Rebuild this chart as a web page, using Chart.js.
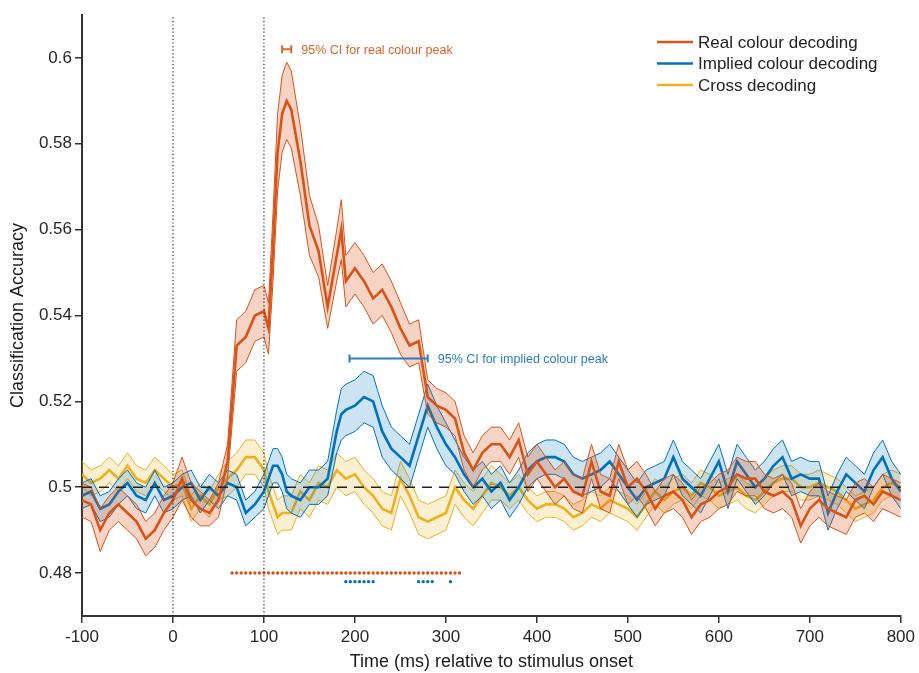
<!DOCTYPE html>
<html>
<head>
<meta charset="utf-8">
<script src="https://cdn.jsdelivr.net/npm/chart.js@4.4.1/dist/chart.umd.min.js"></script>
<style>
  body { margin: 0; background: #fff; }
  #chart { display: block; }
</style>
</head>
<body>
<canvas id="chart" width="919" height="673"></canvas>
<script>
// time points (ms)
const times = [
  -100, -90, -80, -70, -60, -50, -40, -30, -20, -10,
  0, 10, 20, 30, 40, 50, 60, 70, 80, 90,
  100, 105, 110, 115, 120, 125, 130, 140, 150, 160,
  170, 180, 185, 190, 200, 210, 220, 230, 240, 250,
  260, 270, 280, 290, 300, 310, 320, 330, 340, 350,
  360, 370, 380, 390, 400, 410, 420, 430, 440, 450,
  460, 470, 480, 490, 500, 510, 520, 530, 540, 550,
  560, 570, 580, 590, 600, 610, 620, 630, 640, 650,
  660, 670, 680, 690, 700, 710, 720, 730, 740, 750,
  760, 770, 780, 790, 800
];

const realMean = [
  0.497, 0.496, 0.490, 0.494, 0.496, 0.494, 0.492, 0.488, 0.490, 0.494,
  0.497, 0.502, 0.497, 0.495, 0.494, 0.497, 0.506, 0.533, 0.535, 0.540,
  0.541, 0.537, 0.556, 0.578, 0.587, 0.590, 0.588, 0.576, 0.561, 0.555,
  0.542, 0.554, 0.560, 0.548, 0.551, 0.548, 0.544, 0.546, 0.542, 0.537,
  0.533, 0.534, 0.521, 0.519, 0.518, 0.516, 0.508, 0.504, 0.508, 0.510,
  0.510, 0.507, 0.511, 0.503, 0.506, 0.503, 0.500, 0.502, 0.499, 0.498,
  0.506, 0.499, 0.498, 0.506, 0.500, 0.502, 0.499, 0.495, 0.498, 0.499,
  0.497, 0.493, 0.496, 0.497, 0.499, 0.500, 0.503, 0.502, 0.502, 0.499,
  0.498, 0.499, 0.497, 0.491, 0.495, 0.497, 0.495, 0.494, 0.493, 0.497,
  0.498, 0.496, 0.499, 0.498, 0.497
];
const realHalf = [
  0.004, 0.004, 0.005, 0.004, 0.004, 0.004, 0.004, 0.004, 0.004, 0.004,
  0.004, 0.005, 0.004, 0.004, 0.003, 0.004, 0.004, 0.006, 0.006, 0.006,
  0.006, 0.006, 0.008, 0.009, 0.009, 0.009, 0.009, 0.008, 0.007, 0.006,
  0.005, 0.006, 0.007, 0.006, 0.006, 0.006, 0.006, 0.006, 0.006, 0.006,
  0.005, 0.005, 0.004, 0.004, 0.004, 0.004, 0.004, 0.004, 0.004, 0.004,
  0.004, 0.004, 0.004, 0.004, 0.004, 0.004, 0.004, 0.004, 0.004, 0.004,
  0.004, 0.004, 0.004, 0.004, 0.004, 0.004, 0.004, 0.004, 0.004, 0.004,
  0.004, 0.004, 0.004, 0.004, 0.004, 0.004, 0.004, 0.004, 0.004, 0.004,
  0.004, 0.004, 0.004, 0.004, 0.004, 0.004, 0.004, 0.004, 0.004, 0.004,
  0.004, 0.004, 0.004, 0.004, 0.004
];

const impliedMean = [
  0.498, 0.499, 0.495, 0.496, 0.499, 0.501, 0.498, 0.497, 0.501, 0.497,
  0.498, 0.500, 0.501, 0.497, 0.500, 0.498, 0.501, 0.500, 0.494, 0.496,
  0.499, 0.502, 0.505, 0.505, 0.503, 0.499, 0.498, 0.497, 0.500, 0.500,
  0.502, 0.513, 0.517, 0.518, 0.519, 0.521, 0.520, 0.513, 0.509, 0.507,
  0.505, 0.512, 0.519, 0.514, 0.510, 0.507, 0.503, 0.500, 0.502, 0.499,
  0.501, 0.497, 0.500, 0.504, 0.506, 0.507, 0.507, 0.506, 0.503, 0.502,
  0.503, 0.504, 0.506, 0.503, 0.500, 0.497, 0.500, 0.501, 0.502, 0.507,
  0.502, 0.500, 0.498, 0.502, 0.506, 0.499, 0.506, 0.503, 0.500, 0.502,
  0.505, 0.507, 0.502, 0.503, 0.502, 0.502, 0.494, 0.499, 0.503, 0.501,
  0.499, 0.504, 0.507, 0.502, 0.499
];
const impliedHalf = [
  0.003, 0.003, 0.003, 0.003, 0.003, 0.003, 0.003, 0.003, 0.003, 0.003,
  0.003, 0.003, 0.003, 0.003, 0.003, 0.003, 0.003, 0.003, 0.003, 0.003,
  0.004, 0.004, 0.004, 0.004, 0.004, 0.004, 0.004, 0.004, 0.004, 0.004,
  0.004, 0.005, 0.006, 0.006, 0.006, 0.006, 0.006, 0.006, 0.005, 0.005,
  0.005, 0.005, 0.005, 0.005, 0.005, 0.004, 0.004, 0.004, 0.004, 0.004,
  0.004, 0.004, 0.004, 0.004, 0.004, 0.004, 0.004, 0.004, 0.004, 0.004,
  0.004, 0.004, 0.004, 0.004, 0.004, 0.004, 0.004, 0.004, 0.004, 0.004,
  0.004, 0.004, 0.004, 0.004, 0.004, 0.004, 0.004, 0.004, 0.004, 0.004,
  0.004, 0.004, 0.004, 0.004, 0.004, 0.004, 0.004, 0.004, 0.004, 0.004,
  0.004, 0.004, 0.004, 0.004, 0.004
];

const crossMean = [
  0.503, 0.501, 0.502, 0.504, 0.502, 0.505, 0.502, 0.501, 0.504, 0.502,
  0.500, 0.501, 0.495, 0.498, 0.496, 0.500, 0.502, 0.504, 0.507, 0.507,
  0.504, 0.499, 0.496, 0.493, 0.494, 0.494, 0.494, 0.499, 0.497, 0.501,
  0.500, 0.504, 0.503, 0.502, 0.503, 0.500, 0.498, 0.495, 0.494, 0.502,
  0.498, 0.493, 0.492, 0.493, 0.494, 0.500, 0.497, 0.495, 0.498, 0.501,
  0.500, 0.498, 0.500, 0.497, 0.495, 0.496, 0.496, 0.495, 0.493, 0.494,
  0.496, 0.495, 0.497, 0.496, 0.495, 0.493, 0.496, 0.499, 0.497, 0.499,
  0.500, 0.498, 0.501, 0.500, 0.498, 0.499, 0.500, 0.498, 0.497, 0.499,
  0.501, 0.502, 0.502, 0.500, 0.500, 0.501, 0.500, 0.499, 0.497, 0.495,
  0.496, 0.497, 0.500, 0.501, 0.500
];
const crossHalf = [
  0.003, 0.003, 0.003, 0.003, 0.003, 0.003, 0.003, 0.003, 0.003, 0.003,
  0.003, 0.003, 0.003, 0.003, 0.003, 0.003, 0.004, 0.004, 0.004, 0.004,
  0.004, 0.004, 0.004, 0.004, 0.004, 0.004, 0.004, 0.004, 0.004, 0.004,
  0.004, 0.004, 0.004, 0.004, 0.004, 0.004, 0.004, 0.004, 0.004, 0.004,
  0.004, 0.004, 0.004, 0.004, 0.004, 0.004, 0.004, 0.004, 0.004, 0.004,
  0.003, 0.003, 0.003, 0.003, 0.003, 0.003, 0.003, 0.003, 0.003, 0.003,
  0.003, 0.003, 0.003, 0.003, 0.003, 0.003, 0.003, 0.003, 0.003, 0.003,
  0.003, 0.003, 0.003, 0.003, 0.003, 0.003, 0.003, 0.003, 0.003, 0.003,
  0.003, 0.003, 0.003, 0.003, 0.003, 0.003, 0.003, 0.003, 0.003, 0.003,
  0.003, 0.003, 0.003, 0.003, 0.003
];

// significant time points (5 ms samples)
const realSig = [
  65, 70, 75, 80, 85, 90, 95, 100, 105, 110, 115, 120, 125, 130, 135, 140,
  145, 150, 155, 160, 165, 170, 175, 180, 185, 190, 195, 200, 205, 210, 215,
  220, 225, 230, 235, 240, 245, 250, 255, 260, 265, 270, 275, 280, 285, 290,
  295, 300, 305, 310, 315
];
const impliedSig = [190, 195, 200, 205, 210, 215, 220, 270, 275, 280, 285, 305];
const realSigLevel = 0.480;
const impliedSigLevel = 0.478;

// 95% CI of peak time
const realPeakCI = [120, 130];
const realPeakLevel = 0.602;
const impliedPeakCI = [194, 280];
const impliedPeakLevel = 0.530;

const eventTimes = [0, 100];
const chance = 0.5;
const xTicks = [-100, 0, 100, 200, 300, 400, 500, 600, 700, 800];
const yTicks = [0.48, 0.50, 0.52, 0.54, 0.56, 0.58, 0.60];
const xMin = -100, xMax = 800, yMin = 0.47, yMax = 0.61;

const FONT = "'Liberation Sans', Arial, Helvetica, sans-serif";
const ORANGE = "#D95319", BLUE = "#0072BD", YELLOW = "#EDB120";

function band(label, mean, half, color, fillColor) {
  const pts = (sign) => times.map((t, i) => ({ x: t, y: mean[i] + sign * half[i] }));
  return [
    { label: label, data: pts(0), borderColor: color, borderWidth: 2.6, pointRadius: 0, fill: false, isMain: true },
    { label: label + " upper", data: pts(1), borderColor: color, borderWidth: 1, pointRadius: 0, fill: "+1", backgroundColor: fillColor },
    { label: label + " lower", data: pts(-1), borderColor: color, borderWidth: 1, pointRadius: 0, fill: false },
  ];
}

function sigDots(ts, level, color) {
  return {
    label: "sig", data: ts.map(t => ({ x: t, y: level })), showLine: false,
    pointRadius: 1.7, pointBorderWidth: 0, pointBackgroundColor: color, borderColor: color,
  };
}

const refLines = [
  { label: "chance", data: [{ x: xMin, y: chance }, { x: xMax, y: chance }], borderColor: "#222",
    borderWidth: 1.5, borderDash: [10, 7], pointRadius: 0, fill: false },
  ...eventTimes.map(t => ({
    label: "event", data: [{ x: t, y: yMin }, { x: t, y: yMax }], borderColor: "#222",
    borderWidth: 1.2, borderDash: [1.2, 2.4], pointRadius: 0, fill: false,
  })),
];

const overlay = {
  id: "overlay",
  afterDatasetsDraw(chart) {
    const { ctx, scales: { x, y } } = chart;
    ctx.save();
    // CI error bars
    const bar = (ci, level, color, text) => {
      const x0 = x.getPixelForValue(ci[0]), x1 = x.getPixelForValue(ci[1]);
      const yy = y.getPixelForValue(level);
      ctx.strokeStyle = color;
      ctx.lineWidth = 2;
      ctx.beginPath();
      ctx.moveTo(x0, yy); ctx.lineTo(x1, yy);
      ctx.moveTo(x0, yy - 4); ctx.lineTo(x0, yy + 4);
      ctx.moveTo(x1, yy - 4); ctx.lineTo(x1, yy + 4);
      ctx.stroke();
      ctx.fillStyle = color;
      ctx.font = "12.5px " + FONT;
      ctx.textBaseline = "middle";
      ctx.textAlign = "left";
      ctx.fillText(text, x1 + 10, yy + 1);
    };
    bar(realPeakCI, realPeakLevel, "#E0622A", "95% CI for real colour peak");
    bar(impliedPeakCI, impliedPeakLevel, "#2A7DC0", "95% CI for implied colour peak");

    // legend
    const items = chart.data.datasets.filter(d => d.isMain);
    ctx.font = "17px " + FONT;
    items.forEach((d, i) => {
      const yy = 42 + i * 21.5;
      ctx.strokeStyle = d.borderColor;
      ctx.lineWidth = 2.6;
      ctx.beginPath();
      ctx.moveTo(657, yy); ctx.lineTo(693, yy);
      ctx.stroke();
      ctx.fillStyle = "#222";
      ctx.fillText(d.label, 698, yy + 1);
    });
    ctx.restore();
  }
};

new Chart(document.getElementById("chart"), {
  type: "line",
  data: {
    datasets: [
      ...refLines,
      sigDots(realSig, realSigLevel, ORANGE),
      sigDots(impliedSig, impliedSigLevel, BLUE),
      ...band("Real colour decoding", realMean, realHalf, ORANGE, "rgba(217,83,25,0.25)"),
      ...band("Implied colour decoding", impliedMean, impliedHalf, BLUE, "rgba(0,114,189,0.2)"),
      ...band("Cross decoding", crossMean, crossHalf, YELLOW, "rgba(237,177,32,0.2)"),
    ],
  },
  options: {
    responsive: false,
    animation: false,
    devicePixelRatio: 1,
    layout: { padding: { left: 0, top: 15, right: 16, bottom: 0 } },
    elements: { line: { tension: 0 } },
    plugins: { legend: { display: false }, tooltip: { enabled: false } },
    scales: {
      x: {
        type: "linear", position: "bottom", min: xMin, max: xMax,
        afterBuildTicks: (s) => { s.ticks = xTicks.map(v => ({ value: v })); },
        afterFit: (s) => { s.height = 57; },
        grid: { drawOnChartArea: false, drawTicks: true, tickLength: 7, color: "#333", lineWidth: 1.5 },
        border: { display: true, color: "#333", width: 2 },
        ticks: { font: { family: FONT, size: 17 }, color: "#262626", padding: 4, maxRotation: 0, autoSkip: false },
        title: { display: true, text: "Time (ms) relative to stimulus onset", color: "#1a1a1a",
          font: { family: FONT, size: 18 }, padding: { top: 0, bottom: 0 } },
      },
      y: {
        type: "linear", min: yMin, max: yMax,
        afterBuildTicks: (s) => { s.ticks = yTicks.map(v => ({ value: v })); },
        afterFit: (s) => { s.width = 82; },
        grid: { drawOnChartArea: false, drawTicks: true, tickLength: 7, color: "#333", lineWidth: 1.5 },
        border: { display: true, color: "#333", width: 2 },
        ticks: { font: { family: FONT, size: 17 }, color: "#262626", padding: 3,
          callback: (v) => String(+Number(v).toFixed(2)) },
        title: { display: true, text: "Classification Accuracy", color: "#1a1a1a",
          font: { family: FONT, size: 18 }, padding: { top: 7, bottom: 0 } },
      },
    },
  },
  plugins: [overlay],
});
</script>
</body>
</html>
